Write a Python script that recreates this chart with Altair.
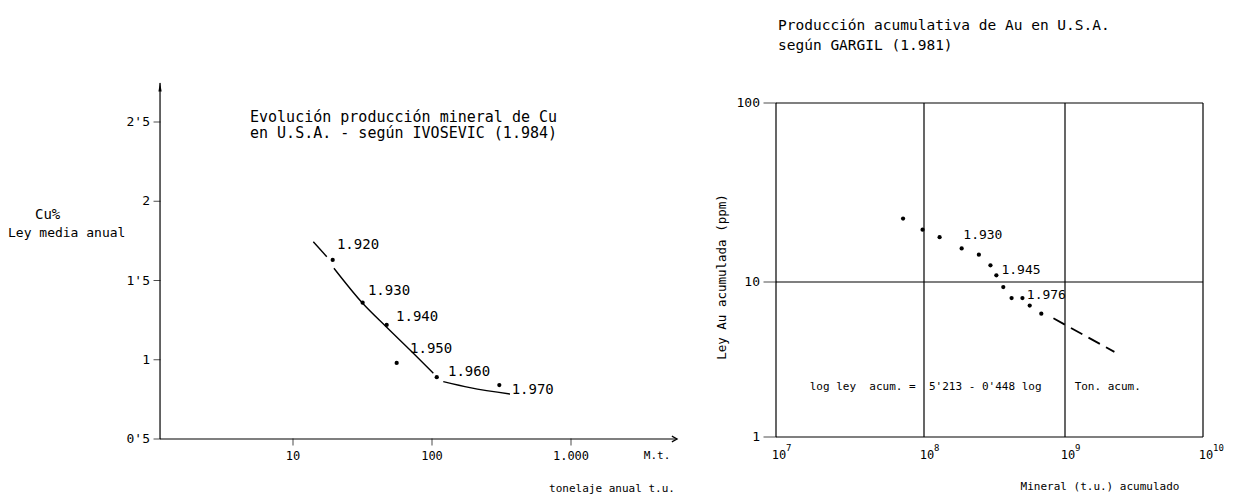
import altair as alt
import pandas as pd

FONT = "DejaVu Sans Mono"

# ---------------- Left panel: Cu production (IVOSEVIC 1984) ----------------
cu_years = ["1.920", "1.930", "1.940", "1.950", "1.960", "1.970"]
cu_tonnage = [19.3, 31.7, 47.2, 55.7, 108.2, 305.0]
cu_grade = [1.63, 1.36, 1.22, 0.98, 0.89, 0.84]
cu_label_t = [20.7, 34.6, 55.1, 69.5, 130.3, 374.0]
cu_label_g = [1.724, 1.434, 1.270, 1.068, 0.925, 0.809]

curve_t = [14.0, 17.5, 19.7, 31.7, 47.2, 73.4, 102.2, 120.5, 187.5, 364.0]
curve_g = [1.745, 1.650, 1.577, 1.356, 1.205, 1.041, 0.915, 0.862, 0.824, 0.784]
curve_seg = [1, 1, 2, 2, 2, 2, 2, 3, 3, 3]

cu_y_ticks = [0.5, 1.0, 1.5, 2.0, 2.5]
cu_y_labels = ["0'5", "1", "1'5", "2", "2'5"]
cu_x_ticks = [10, 100, 1000]
cu_x_labels = ["10", "100", "1.000"]
cu_x_origin, cu_x_end = 1.105, 5800
cu_y_origin, cu_y_end = 0.5, 2.746
cu_unit_pos = 4160

# ---------------- Right panel: cumulative Au production (GARGIL 1981) ----------------
au_ton = [7.22e7, 9.78e7, 1.29e8, 1.85e8, 2.45e8, 2.96e8, 3.26e8, 3.65e8, 4.18e8, 4.99e8, 5.62e8, 6.79e8]
au_ley = [22.6, 19.6, 17.8, 15.4, 14.2, 12.4, 10.9, 9.28, 7.87, 7.87, 7.05, 6.25]
trend_ton = [8.28e8, 2.28e9]
trend_ley = [5.83, 3.54]
au_label_text = ["1.930", "1.945", "1.976"]
au_label_ton = [1.90e8, 3.54e8, 5.36e8]
au_label_ley = [18.4, 11.6, 8.27]
au_x_grid = [1e7, 1e8, 1e9, 1e10]
au_x_base = ["10", "10", "10", "10"]
au_x_exp = ["7", "8", "9", "10"]
au_y_grid = [1, 10, 100]
au_y_labels = ["1", "10", "100"]
NB = "\u00a0"
equation = f"log ley{NB}{NB}acum. ={NB}{NB}5'213 - 0'448 log{NB}{NB}{NB}{NB}{NB}Ton. acum."
equation_pos = (1.69e7, 2.09)

# ---------------- scales ----------------
lx = alt.Scale(type="log", domain=[10, 1000], range=[293, 571], nice=False)
ly = alt.Scale(type="linear", domain=[0.5, 2.5], range=[439, 122], nice=False, zero=False)
rx = alt.Scale(type="log", domain=[1e7, 1e8, 1e9, 1e10], range=[776, 924, 1065, 1203], nice=False)
ry = alt.Scale(type="log", domain=[1, 10, 100], range=[437, 282, 103], nice=False)


def LX(f):
    return alt.X(f, type="quantitative", scale=lx, axis=None)


def LY(f):
    return alt.Y(f, type="quantitative", scale=ly, axis=None)


def RX(f):
    return alt.X(f, type="quantitative", scale=rx, axis=None)


def RY(f):
    return alt.Y(f, type="quantitative", scale=ry, axis=None)


def free_text(txt, x, y, size=12, align="left", angle=0):
    return alt.Chart(pd.DataFrame({"t": [txt]})).mark_text(
        font=FONT, fontSize=size, align=align, baseline="middle", color="black", angle=angle
    ).encode(x=alt.value(x), y=alt.value(y), text="t:N")


# ---- left layers ----
cu_pts = pd.DataFrame({"t": cu_tonnage, "g": cu_grade})
cu_lab = pd.DataFrame({"t": cu_label_t, "g": cu_label_g, "lab": cu_years})
curve = pd.DataFrame({"t": curve_t, "g": curve_g, "seg": curve_seg})
l_axes = pd.DataFrame({
    "t": [cu_x_origin, cu_x_origin], "t2": [cu_x_end, cu_x_origin],
    "g": [cu_y_origin, cu_y_origin], "g2": [cu_y_origin, cu_y_end],
})
l_yt = pd.DataFrame({"t": [cu_x_origin] * 5, "g": cu_y_ticks, "lab": cu_y_labels})
l_xt = pd.DataFrame({"t": cu_x_ticks, "g": [cu_y_origin] * 3, "lab": cu_x_labels})

arrow_up = "M0,-1L0.28,0.6L-0.28,0.6Z"
arrow_right = "M-1,-0.55L0,0L-1,0.55"

left = alt.layer(
    alt.Chart(l_axes).mark_rule(color="black", strokeWidth=1.2).encode(
        x=LX("t"), x2="t2", y=LY("g"), y2="g2"),
    alt.Chart(pd.DataFrame({"t": [cu_x_origin], "g": [cu_y_end]})).mark_point(
        shape=arrow_up, filled=True, color="black", size=130, opacity=1, yOffset=5).encode(
        x=LX("t"), y=LY("g")),
    alt.Chart(pd.DataFrame({"t": [cu_x_end], "g": [cu_y_origin]})).mark_point(
        shape=arrow_right, filled=False, color="black", strokeWidth=1.2, size=110, opacity=1).encode(
        x=LX("t"), y=LY("g")),
    alt.Chart(l_yt).mark_tick(orient="horizontal", size=7, thickness=1, color="black", xOffset=-3).encode(
        x=LX("t"), y=LY("g")),
    alt.Chart(l_yt).mark_text(font=FONT, fontSize=13, align="right", baseline="middle", dx=-10).encode(
        x=LX("t"), y=LY("g"), text="lab:N"),
    alt.Chart(l_xt).mark_tick(orient="vertical", size=7, thickness=1, color="black", yOffset=3).encode(
        x=LX("t"), y=LY("g")),
    alt.Chart(l_xt).mark_text(font=FONT, fontSize=12, align="center", baseline="middle", dy=17).encode(
        x=LX("t"), y=LY("g"), text="lab:N"),
    alt.Chart(pd.DataFrame({"t": [cu_unit_pos], "g": [cu_y_origin], "lab": ["M.t."]})).mark_text(
        font=FONT, fontSize=11, align="center", baseline="middle", dy=17).encode(
        x=LX("t"), y=LY("g"), text="lab:N"),
    alt.Chart(curve).mark_line(color="black", strokeWidth=1.4, interpolate="monotone").encode(
        x=LX("t"), y=LY("g"), detail="seg:N"),
    alt.Chart(cu_pts).mark_circle(color="black", size=18, opacity=1).encode(x=LX("t"), y=LY("g")),
    alt.Chart(cu_lab).mark_text(font=FONT, fontSize=14, align="left", baseline="middle").encode(
        x=LX("t"), y=LY("g"), text="lab:N"),
    free_text("Cu%", 35, 215, 14),
    free_text("Ley media anual", 8, 233, 13),
    free_text("Evolución producción mineral de Cu", 250, 117, 15),
    free_text("en U.S.A. - según IVOSEVIC (1.984)", 250, 133, 15),
    free_text("tonelaje anual t.u.", 612, 489, 11, "center"),
)

# ---- right layers ----
au_pts = pd.DataFrame({"x": au_ton, "y": au_ley})
au_lab = pd.DataFrame({"x": au_label_ton, "y": au_label_ley, "lab": au_label_text})
trend = pd.DataFrame({"x": trend_ton, "y": trend_ley})
hgrid = pd.DataFrame({"x": [au_x_grid[0]] * 3, "x2": [au_x_grid[-1]] * 3, "y": au_y_grid, "lab": au_y_labels})
vgrid = pd.DataFrame({"x": au_x_grid, "y": [au_y_grid[0]] * 4, "y2": [au_y_grid[-1]] * 4,
                      "base": au_x_base, "exp": au_x_exp})
eq = pd.DataFrame({"x": [equation_pos[0]], "y": [equation_pos[1]], "lab": [equation]})

right = alt.layer(
    alt.Chart(hgrid).mark_rule(color="black", strokeWidth=1.2).encode(x=RX("x"), x2="x2", y=RY("y")),
    alt.Chart(vgrid).mark_rule(color="black", strokeWidth=1.2).encode(x=RX("x"), y=RY("y"), y2="y2"),
    alt.Chart(hgrid).mark_tick(orient="horizontal", size=13, thickness=1, color="black", xOffset=-6).encode(
        x=RX("x"), y=RY("y")),
    alt.Chart(hgrid).mark_text(font=FONT, fontSize=13, align="right", baseline="middle", dx=-16).encode(
        x=RX("x"), y=RY("y"), text="lab:N"),
    alt.Chart(vgrid).mark_text(font=FONT, fontSize=12, align="center", baseline="middle", dx=3, dy=18).encode(
        x=RX("x"), y=RY("y"), text="base:N"),
    alt.Chart(vgrid).mark_text(font=FONT, fontSize=9, align="left", baseline="middle", dx=10, dy=11).encode(
        x=RX("x"), y=RY("y"), text="exp:N"),
    alt.Chart(trend).mark_line(color="black", strokeWidth=1.8, strokeDash=[13, 7]).encode(x=RX("x"), y=RY("y")),
    alt.Chart(au_pts).mark_circle(color="black", size=18, opacity=1).encode(x=RX("x"), y=RY("y")),
    alt.Chart(au_lab).mark_text(font=FONT, fontSize=13, align="left", baseline="middle").encode(
        x=RX("x"), y=RY("y"), text="lab:N"),
    alt.Chart(eq).mark_text(font=FONT, fontSize=11, align="left", baseline="middle").encode(
        x=RX("x"), y=RY("y"), text="lab:N"),
    free_text("Producción acumulativa de Au en U.S.A.", 778, 26, 14.5),
    free_text("según GARGIL (1.981)", 778, 46, 14.5),
    free_text("Ley Au acumulada (ppm)", 722, 277, 12.5, "center", 270),
    free_text("Mineral (t.u.) acumulado", 1100, 487, 11, "center"),
)

chart = alt.layer(left, right).resolve_scale(x="independent", y="independent").properties(
    width=1233, height=499, padding=0, autosize=alt.AutoSizeParams(type="none"), background="white"
).configure_view(stroke=None)

chart.save("out.html", embed_options={"renderer": "svg", "actions": False})
